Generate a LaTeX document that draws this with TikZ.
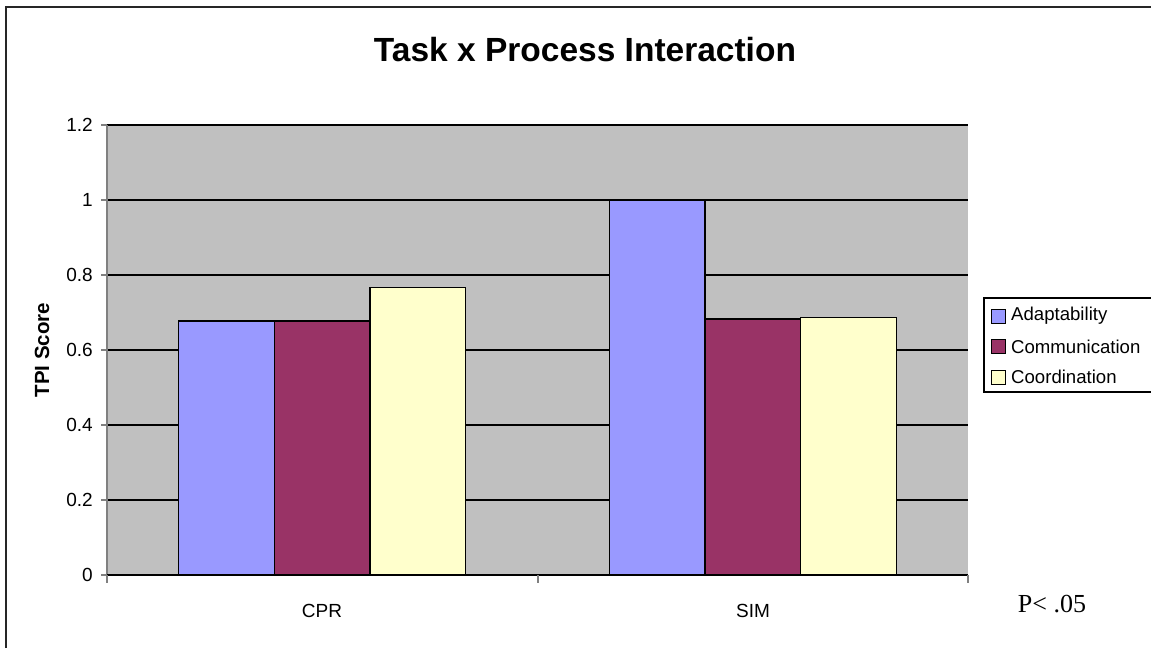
\documentclass[tikz,border=0pt]{standalone}
\usepackage{fontspec}
\setmainfont{Liberation Sans}
\newfontfamily\timesfont{Liberation Serif}
\definecolor{plotgray}{HTML}{C0C0C0}
\definecolor{adaptblue}{HTML}{9999FF}
\definecolor{commred}{HTML}{993366}
\definecolor{coordyellow}{HTML}{FFFFCC}
\definecolor{axisgray}{HTML}{808080}
\tikzset{
  barbox/.style={draw=black, line width=1.4pt},
  gridline/.style={draw=black, line width=1.1pt},
  ticklabel/.style={font=\fontsize{19}{22}\selectfont, inner sep=0pt},
  legendkey/.style={draw=black, line width=1pt, minimum size=14pt, inner sep=0pt},
  legendtext/.style={font=\fontsize{18.6}{22}\selectfont, anchor=west, inner sep=0pt},
}
\begin{document}
\begin{tikzpicture}[x=1pt, y=-1pt]
\useasboundingbox (0,0) rectangle (1151,648);
\fill[white] (0,0) rectangle (1151,648);
% chart frame (left and top edges)
\draw[line width=2pt, color=black!85] (6,648) -- (6,7) -- (1151,7);
% title
\node[font=\bfseries\fontsize{33.5}{38}\selectfont] (title) at (585,50) {Task x Process Interaction};
% plot area
\fill[plotgray] (107,125) rectangle (968,575);
\foreach \v in {0.2,0.4,0.6,0.8,1,1.2} {
  \draw[gridline] (107,{575-375*\v}) -- (968,{575-375*\v});
}
% y axis with ticks and labels
\draw[axisgray, line width=1.6pt] (107,125) -- (107,583);
\foreach \v/\lab in {0/0,0.2/0.2,0.4/0.4,0.6/0.6,0.8/0.8,1/1,1.2/1.2} {
  \draw[axisgray, line width=1.6pt] (101,{575-375*\v}) -- (107,{575-375*\v});
  \node[ticklabel, anchor=east] (yl\lab) at (93,{575-375*\v}) {\lab};
}
% bars: CPR and SIM
\foreach \x/\h/\c in {
  178.75/0.677/adaptblue, 274.4/0.677/commred, 370.1/0.767/coordyellow,
  609.25/1.0/adaptblue, 704.9/0.683/commred, 800.6/0.687/coordyellow} {
  \filldraw[barbox, fill=\c] (\x,575) rectangle ({\x+95.67},{575-375*\h});
}
% x axis with ticks
\draw[black, line width=1.6pt] (107,575) -- (968,575);
\foreach \x in {107,538,968} {
  \draw[axisgray, line width=1.6pt] (\x,575) -- (\x,583);
}
\node[ticklabel] (cpr) at (322,611) {CPR};
\node[ticklabel] (sim) at (753,611) {SIM};
% axis title
\node[font=\bfseries\fontsize{20.5}{24}\selectfont, rotate=90] (ytitle) at (42,350) {TPI Score};
% legend
\draw[black, line width=1.2pt] (1151,298) -- (984,298) -- (984,392) -- (1151,392);
\node[legendkey, fill=adaptblue] (k1) at (998.5,316) {};
\node[legendkey, fill=commred] (k2) at (998.5,346.5) {};
\node[legendkey, fill=coordyellow] (k3) at (998.5,377) {};
\node[legendtext] (t1) at (1011,316) {Adaptability};
\node[legendtext] (t2) at (1011,346.5) {Communication};
\node[legendtext] (t3) at (1011,377) {Coordination};
% significance note
\node[font=\timesfont\fontsize{26}{30}\selectfont, inner sep=0pt] (pval) at (1052,604) {P< .05};
\end{tikzpicture}
\end{document}
